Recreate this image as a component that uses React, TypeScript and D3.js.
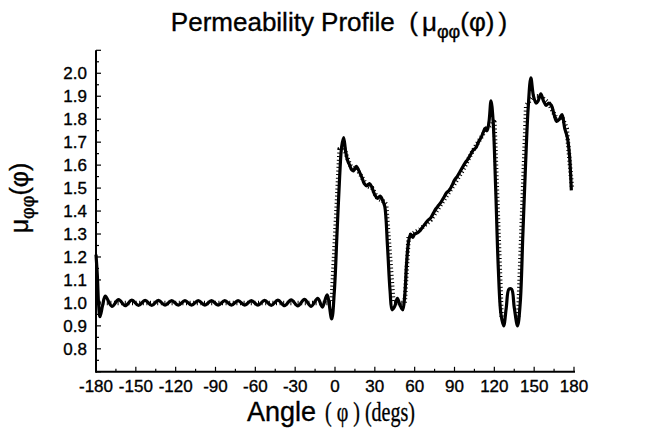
import React from "react";
import * as d3 from "d3";

// Measured profile (solid line): angle in degrees
const angles = [
  -180, -179, -178, -177, -175, -173, -168, -163, -158, -153,
  -148, -143, -138, -133, -128, -123, -118, -113, -108, -103,
  -98, -93, -88, -83, -78, -73, -68, -63, -58, -53,
  -48, -43, -38, -33, -28, -23, -18, -13, -9.5, -6,
  -2.5, -0.5, 1.5, 3.5, 5, 6.5, 8, 9.5, 11, 12.5,
  14, 16, 18, 20, 22, 24, 26, 28, 30, 32,
  34, 36, 37.5, 39.5, 41.5, 43, 45, 47, 49, 51,
  52.5, 54, 55.5, 57, 58.5, 60, 62, 64, 66, 68,
  70, 72, 74, 76, 78, 80, 82, 84, 86, 88,
  90, 92, 94, 96, 98, 100, 102, 104, 106, 108,
  110, 111.5, 113, 114.5, 116, 117.5, 119, 121, 123, 125,
  127, 129, 131, 133, 135, 137.5, 139.5, 141.5, 143.5, 145.5,
  147.5, 149.5, 151.5, 153, 155, 157, 159, 161, 163, 165,
  167, 169, 171, 173, 175, 176.5, 178,
];
// Measured permeability values
const mu = [
  1.21, 1.12, 0.99, 0.94, 0.99, 1.03, 0.985, 1.014, 0.988, 1.012,
  0.989, 1.011, 0.989, 1.011, 0.99, 1.01, 0.99, 1.01, 0.99, 1.01,
  0.99, 1.01, 0.99, 1.01, 0.99, 1.01, 0.99, 1.01, 0.99, 1.011,
  0.989, 1.012, 0.988, 1.013, 0.987, 1.015, 0.985, 1.02, 0.982, 1.035,
  0.93, 1.05, 1.3, 1.55, 1.68, 1.72, 1.66, 1.62, 1.6, 1.58,
  1.575, 1.595, 1.575, 1.55, 1.52, 1.51, 1.52, 1.5, 1.47, 1.455,
  1.465, 1.445, 1.42, 1.25, 1.05, 0.97, 0.985, 1.02, 0.99, 0.97,
  1.03, 1.18, 1.27, 1.3, 1.285, 1.3, 1.305, 1.315, 1.33, 1.345,
  1.36, 1.37, 1.39, 1.41, 1.425, 1.44, 1.46, 1.48, 1.49, 1.51,
  1.535, 1.55, 1.57, 1.59, 1.61, 1.625, 1.645, 1.665, 1.675, 1.7,
  1.72, 1.74, 1.76, 1.75, 1.79, 1.88, 1.8, 1.5, 1.15, 0.95,
  0.9, 0.98, 1.06, 1.06, 0.98, 0.9, 1.0, 1.3, 1.6, 1.85,
  1.98, 1.9, 1.87, 1.88, 1.91, 1.88, 1.86, 1.87, 1.86, 1.82,
  1.79, 1.8, 1.82, 1.76, 1.72, 1.65, 1.49,
];

// Design profile (dotted line); NaN marks a gap
const idealAngles = [
  -180, -2.5, 3.5, 6.5, 10, 13, 16, 20, 24, 28,
  32, 36, 38.5, 44, 52.5, 55.5, 58, 64, 72, 80,
  88, 96, 104, 110, 114, 118.5, 120, 125.5, 126, 137.5,
  138, 144, 149, 155, 161, 167, 171, 174.5, 178.5,
];
const idealMu = [
  1.0, 1.0, 1.67, 1.68, 1.62, 1.58, 1.59, 1.55, 1.51, 1.5,
  1.455, 1.445, 1.43, 1.0, 1.0, 1.29, 1.3, 1.32, 1.36, 1.43,
  1.5, 1.575, 1.665, 1.72, 1.76, 1.78, 1.8, 0.93, NaN, NaN,
  0.94, 1.86, 1.9, 1.9, 1.87, 1.8, 1.81, 1.76, 1.5,
];

const xTicks = [-180, -150, -120, -90, -60, -30, 0, 30, 60, 90, 120, 150, 180];
const yTicks = [0.8, 0.9, 1.0, 1.1, 1.2, 1.3, 1.4, 1.5, 1.6, 1.7, 1.8, 1.9, 2.0];

export default function App() {
  const W = 647;
  const H = 436;
  const x = d3.scaleLinear().domain([-180, 180]).range([96, 574]);
  const y = d3.scaleLinear().domain([0.7, 2.1]).range([371.8, 50.3]);

  const solidLine = d3
    .line<number>()
    .x((_, i) => x(angles[i]))
    .y((d) => y(d))
    .curve(d3.curveCatmullRom.alpha(0.5));

  const idealLine = d3
    .line<number>()
    .defined((d) => !isNaN(d))
    .x((_, i) => x(idealAngles[i]))
    .y((d) => y(d));

  const xMinor = d3.range(-180, 181, 15);
  const yMinor = d3.range(0, 29).map((i) => 0.7 + i * 0.05);
  const font = "Arial, 'Liberation Sans', Helvetica, sans-serif";
  const serif = "'Times New Roman', 'Liberation Serif', serif";
  const x0 = x(-180);
  const y0 = y(0.7);
  const ink = { fill: "#000", stroke: "#000", strokeWidth: 0.35 };

  return (
    <svg
      width={W}
      height={H}
      style={{ position: "absolute", left: 0, top: 0, background: "#fff" }}
      fontFamily={font}
    >
      <rect width={W} height={H} fill="#fff" />
      {/* title */}
      <text x={339} y={31} textAnchor="middle" fontSize={26} {...ink}>
        Permeability Profile{"\u00a0\u00a0"}(<tspan dx={4}>μ</tspan>
        <tspan fontSize={18} dy={7}>φφ</tspan>
        <tspan dy={-7}>(φ)</tspan>
        <tspan dx={4}>)</tspan>
      </text>

      {/* y label */}
      <text
        transform={`translate(28,198) rotate(-90)`}
        textAnchor="middle"
        fontSize={25}
        {...ink}
      >
        μ<tspan fontSize={18} dy={6}>φφ</tspan>
        <tspan dy={-6}>(φ)</tspan>
      </text>

      {/* x label */}
      <text x={316} y={421} textAnchor="end" fontSize={27} {...ink}>
        Angle
      </text>
      <text
        x={325}
        y={421}
        fontFamily={serif}
        fontSize={27}
        textLength={90}
        lengthAdjust="spacingAndGlyphs"
        {...ink}
      >
        ( φ ) (degs)
      </text>

      {/* ticks */}
      {xMinor.map((t) => (
        <line
          key={"xm" + t}
          x1={x(t)}
          x2={x(t)}
          y1={y0}
          y2={y0 - (t % 30 === 0 ? 5 : 3)}
          stroke="#000"
          strokeWidth={1.2}
        />
      ))}
      {yMinor.map((t, i) => (
        <line
          key={"ym" + i}
          x1={x0}
          x2={x0 + (i % 2 === 0 ? 5 : 3)}
          y1={y(t)}
          y2={y(t)}
          stroke="#000"
          strokeWidth={1.2}
        />
      ))}

      {/* axes */}
      <line x1={x0} x2={x(180) + 1} y1={y0} y2={y0} stroke="#000" strokeWidth={2} />
      <line x1={x0} x2={x0} y1={y0 + 1} y2={y(2.1)} stroke="#000" strokeWidth={2} />

      {xTicks.map((t) => (
        <text key={"xt" + t} x={x(t)} y={392} textAnchor="middle" fontSize={17} {...ink}>
          {t}
        </text>
      ))}
      {yTicks.map((t) => (
        <text
          key={"yt" + t}
          x={87}
          y={y(t) + 6}
          textAnchor="end"
          fontSize={17}
          {...ink}
        >
          {t.toFixed(1)}
        </text>
      ))}

      {/* design profile, dotted */}
      <path
        d={idealLine(idealMu) || ""}
        fill="none"
        stroke="#000"
        strokeWidth={4.5}
        strokeDasharray="1 2.6"
      />
      {/* measured profile */}
      <path
        d={solidLine(mu) || ""}
        fill="none"
        stroke="#000"
        strokeWidth={3.2}
        strokeLinejoin="round"
      />
    </svg>
  );
}
